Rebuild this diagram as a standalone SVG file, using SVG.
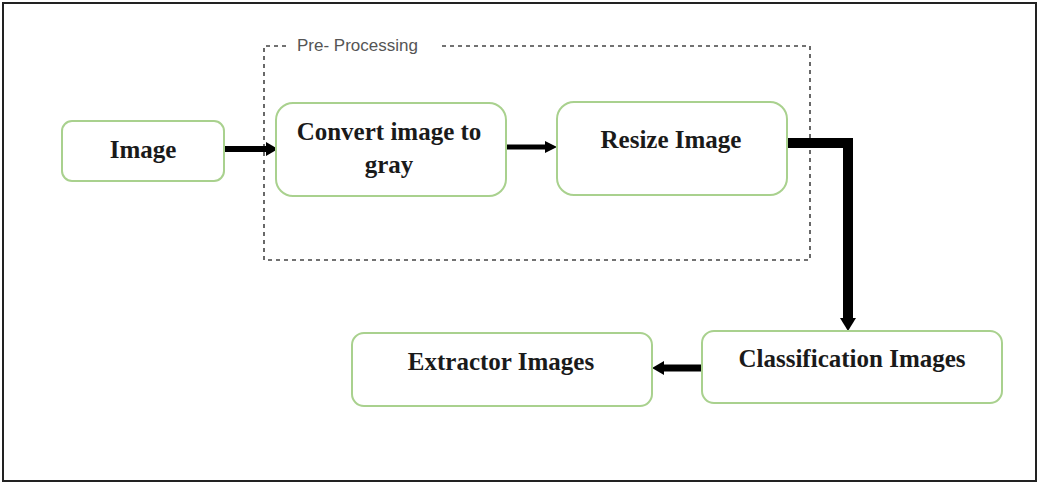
<svg xmlns="http://www.w3.org/2000/svg" width="1039" height="483" viewBox="0 0 1039 483">
  <style>
    .node rect { fill: #ffffff; stroke: #a9d18e; stroke-width: 2; }
    .node text { font-family: "Liberation Serif", "Times New Roman", serif; font-weight: bold; font-size: 25px; fill: #1a1a1a; text-anchor: middle; }
    .group-box { fill: none; stroke: #444444; stroke-width: 1.6; stroke-dasharray: 4 4; }
    .group-label { font-family: "Liberation Sans", Arial, sans-serif; font-size: 17px; fill: #555555; }
    .conn { fill: none; stroke: #000000; stroke-linejoin: miter; }
    .head { fill: #000000; }
  </style>

  <rect width="1039" height="483" fill="#ffffff"/>
  <!-- frame -->
  <rect x="3" y="3" width="1033" height="478" fill="none" stroke="#222222" stroke-width="2"/>

  <!-- pre-processing stage -->
  <g id="preprocessing">
    <path class="group-box" d="M286,46 L264,46 L264,260 L810,260 L810,46 L440,46"/>
    <text class="group-label" x="297" y="51">Pre- Processing</text>
  </g>

  <g id="connectors">
    <!-- image -> convert -->
    <path class="conn" d="M224,149 L268,149" stroke-width="6"/>
    <polygon class="head" points="266,142 278,149 266,156"/>
    <!-- convert -> resize -->
    <path class="conn" d="M506,147 L547,147" stroke-width="5"/>
    <polygon class="head" points="545,141 557,147 545,153"/>
    <!-- resize -> classification -->
    <path class="conn" d="M787,143 L848,143 L848,320" stroke-width="10"/>
    <polygon class="head" points="840,318 856,318 848,331"/>
    <!-- classification -> extractor -->
    <path class="conn" d="M702,368 L662,368" stroke-width="7"/>
    <polygon class="head" points="664,361 652,368 664,375"/>
  </g>

  <g id="node-image" class="node">
    <rect x="62" y="121" width="162" height="60" rx="10"/>
    <text x="143" y="158">Image</text>
  </g>
  <g id="node-convert" class="node">
    <rect x="276" y="103" width="230" height="93" rx="17"/>
    <text x="389" y="140">Convert image to</text>
    <text x="389" y="173">gray</text>
  </g>
  <g id="node-resize" class="node">
    <rect x="557" y="102" width="230" height="93" rx="17"/>
    <text x="671" y="148">Resize Image</text>
  </g>
  <g id="node-classification" class="node">
    <rect x="702" y="331" width="300" height="72" rx="12"/>
    <text x="852" y="367">Classification Images</text>
  </g>
  <g id="node-extractor" class="node">
    <rect x="352" y="333" width="300" height="73" rx="12"/>
    <text x="501" y="370">Extractor Images</text>
  </g>
</svg>
